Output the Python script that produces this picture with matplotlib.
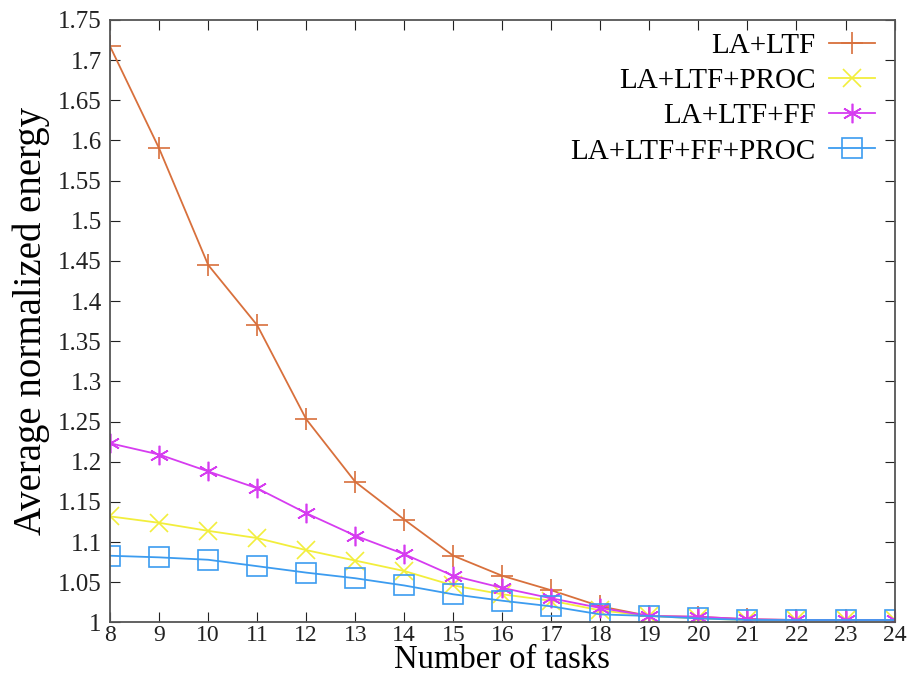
import numpy as np
import matplotlib.pyplot as plt

plt.rcParams['font.family'] = ['Liberation Serif', 'DejaVu Serif']

tasks = list(range(8, 25))
la_ltf = [1.717, 1.590, 1.445, 1.370, 1.253, 1.175, 1.128, 1.083, 1.058, 1.040,
          1.020, 1.008, 1.007, 1.004, 1.003, 1.003, 1.003]
la_ltf_proc = [1.132, 1.124, 1.114, 1.105, 1.090, 1.077, 1.064, 1.046, 1.035, 1.027,
               1.015, 1.008, 1.005, 1.003, 1.003, 1.003, 1.003]
la_ltf_ff = [1.223, 1.209, 1.188, 1.167, 1.136, 1.108, 1.085, 1.058, 1.043, 1.030,
             1.018, 1.008, 1.007, 1.004, 1.003, 1.003, 1.003]
la_ltf_ff_proc = [1.083, 1.081, 1.078, 1.070, 1.062, 1.055, 1.046, 1.035, 1.027, 1.020,
                  1.010, 1.008, 1.005, 1.003, 1.003, 1.003, 1.003]

fig = plt.figure(figsize=(9.1, 6.87), dpi=100)
ax = fig.add_axes([0.121, 0.094, 0.862, 0.877])

ax.plot(tasks, la_ltf, color='#d8703c', marker='+', ms=16, mew=1.2, lw=1.3, label='LA+LTF')
ax.plot(tasks, la_ltf_proc, color='#f2ee3c', marker='x', ms=13, mew=1.2, lw=1.3, label='LA+LTF+PROC')
ax.plot(tasks, la_ltf_ff, color='#d63cf0', marker=(6, 2, 0), ms=14, mew=1.2, lw=1.3, label='LA+LTF+FF')
ax.plot(tasks, la_ltf_ff_proc, color='#3c9cf0', marker='s', ms=14, mew=1.2, mfc='none', lw=1.3,
        label='LA+LTF+FF+PROC')

ax.set_xlim(8, 24)
ax.set_ylim(1, 1.75)
ax.set_xticks(tasks)
yt = np.arange(1.0, 1.751, 0.05)
ax.set_yticks(yt)
ax.set_yticklabels(['%g' % round(v, 2) for v in yt])
ax.tick_params(direction='in', top=True, right=True, length=7, colors='#222222')
ax.tick_params(axis='x', pad=2, labelsize=17)
ax.tick_params(axis='y', pad=6, labelsize=18)
for s in ax.spines.values():
    s.set_color('#555555')
    s.set_linewidth(1.3)

ax.set_xlabel('Number of tasks', fontsize=23.5, labelpad=-1)
ax.set_ylabel('Average normalized energy', fontsize=28, labelpad=6)

ax.legend(loc='upper right', bbox_to_anchor=(0.998, 1.008), markerfirst=False, frameon=False,
          fontsize=21, handlelength=1.6, handletextpad=0.45, labelspacing=0.3,
          borderaxespad=0.2)

fig.savefig('out.png', dpi=100, facecolor='white')
